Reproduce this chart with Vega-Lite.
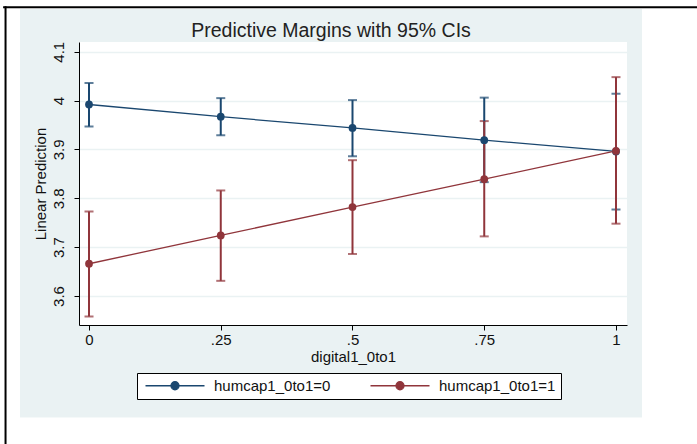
{
  "$schema": "https://vega.github.io/schema/vega-lite/v6.json",
  "width": 548,
  "height": 283,
  "autosize": {"type": "none"},
  "padding": {"left": 79, "top": 42, "right": 70, "bottom": 119},
  "background": "#EAF2F3",
  "config": {
    "view": {"fill": "white", "stroke": null},
    "font": "Liberation Sans"
  },
  "title": {
    "text": "Predictive Margins with 95% CIs",
    "fontSize": 19.5,
    "fontWeight": "normal",
    "color": "#222222",
    "anchor": "middle",
    "frame": "group",
    "dx": -22,
    "dy": 46,
    "offset": 4
  },
  "data": {
    "values": [
      {"digital": 0, "group": "humcap1_0to1=0", "margin": 3.992, "lo": 3.947, "hi": 4.036},
      {"digital": 0.25, "group": "humcap1_0to1=0", "margin": 3.967, "lo": 3.929, "hi": 4.005},
      {"digital": 0.5, "group": "humcap1_0to1=0", "margin": 3.944, "lo": 3.886, "hi": 4.001},
      {"digital": 0.75, "group": "humcap1_0to1=0", "margin": 3.919, "lo": 3.833, "hi": 4.006},
      {"digital": 1, "group": "humcap1_0to1=0", "margin": 3.896, "lo": 3.777, "hi": 4.014},
      {"digital": 0, "group": "humcap1_0to1=1", "margin": 3.666, "lo": 3.558, "hi": 3.773},
      {"digital": 0.25, "group": "humcap1_0to1=1", "margin": 3.724, "lo": 3.631, "hi": 3.816},
      {"digital": 0.5, "group": "humcap1_0to1=1", "margin": 3.782, "lo": 3.686, "hi": 3.878},
      {"digital": 0.75, "group": "humcap1_0to1=1", "margin": 3.839, "lo": 3.722, "hi": 3.958},
      {"digital": 1, "group": "humcap1_0to1=1", "margin": 3.897, "lo": 3.748, "hi": 4.048}
    ]
  },
  "layer": [
    {
      "data": {"values": [{}]},
      "mark": {"type": "rect", "color": "white"},
      "encoding": {
        "x": {"datum": -0.3, "type": "quantitative", "scale": {"domain": [-0.019, 1.0209], "nice": false, "zero": false}},
        "x2": {"datum": 1.3},
        "y": {"datum": 4.2059, "type": "quantitative", "scale": {"domain": [3.5406, 4.1199], "nice": false, "zero": false}},
        "y2": {"datum": 4.1875}
      }
    },
    {
      "data": {"values": [{}]},
      "mark": {"type": "rect", "color": "white"},
      "encoding": {
        "x": {"datum": -0.3, "type": "quantitative", "scale": {"domain": [-0.019, 1.0209], "nice": false, "zero": false}},
        "x2": {"datum": 1.3},
        "y": {"datum": 3.351, "type": "quantitative", "scale": {"domain": [3.5406, 4.1199], "nice": false, "zero": false}},
        "y2": {"datum": 3.2}
      }
    },
    {
      "data": {"values": [{}]},
      "mark": {"type": "rect", "color": "white"},
      "encoding": {
        "x": {"datum": -0.3, "type": "quantitative", "scale": {"domain": [-0.019, 1.0209], "nice": false, "zero": false}},
        "x2": {"datum": -0.1309},
        "y": {"datum": 4.2059, "type": "quantitative", "scale": {"domain": [3.5406, 4.1199], "nice": false, "zero": false}},
        "y2": {"datum": 3.2}
      }
    },
    {
      "data": {"values": [{}]},
      "mark": {"type": "rect", "color": "white"},
      "encoding": {
        "x": {"datum": 1.0493, "type": "quantitative", "scale": {"domain": [-0.019, 1.0209], "nice": false, "zero": false}},
        "x2": {"datum": 1.3},
        "y": {"datum": 4.2059, "type": "quantitative", "scale": {"domain": [3.5406, 4.1199], "nice": false, "zero": false}},
        "y2": {"datum": 3.2}
      }
    },
    {
      "data": {"values": [{}]},
      "mark": {"type": "rule", "color": "black", "strokeWidth": 2.2},
      "encoding": {
        "x": {"datum": -0.163, "type": "quantitative", "scale": {"domain": [-0.019, 1.0209], "nice": false, "zero": false}},
        "x2": {"datum": 1.3},
        "y": {"datum": 4.191, "type": "quantitative", "scale": {"domain": [3.5406, 4.1199], "nice": false, "zero": false}}
      }
    },
    {
      "data": {"values": [{}]},
      "mark": {"type": "rule", "color": "black", "strokeWidth": 2},
      "encoding": {
        "x": {"datum": -0.1584, "type": "quantitative", "scale": {"domain": [-0.019, 1.0209], "nice": false, "zero": false}},
        "y": {"datum": 4.193, "type": "quantitative", "scale": {"domain": [3.5406, 4.1199], "nice": false, "zero": false}},
        "y2": {"datum": 3.2}
      }
    },
    {
      "mark": {"type": "errorbar", "ticks": {"size": 9, "thickness": 2}, "thickness": 2},
      "encoding": {
        "x": {"field": "digital", "type": "quantitative", "scale": {"domain": [-0.019, 1.0209], "nice": false, "zero": false}, "title": "digital1_0to1"},
        "y": {"field": "lo", "type": "quantitative", "scale": {"domain": [3.5406, 4.1199], "nice": false, "zero": false}, "title": "Linear Prediction"},
        "y2": {"field": "hi"},
        "color": {"field": "group", "type": "nominal", "scale": {"domain": ["humcap1_0to1=0", "humcap1_0to1=1"], "range": ["#1A476F", "#90353B"]}}
      }
    },
    {
      "mark": {"type": "line", "strokeWidth": 1.3},
      "encoding": {
        "x": {"field": "digital", "type": "quantitative", "scale": {"domain": [-0.019, 1.0209], "nice": false, "zero": false}, "title": "digital1_0to1"},
        "y": {"field": "margin", "type": "quantitative", "scale": {"domain": [3.5406, 4.1199], "nice": false, "zero": false}, "title": "Linear Prediction"},
        "color": {"field": "group", "type": "nominal", "scale": {"domain": ["humcap1_0to1=0", "humcap1_0to1=1"], "range": ["#1A476F", "#90353B"]}}
      }
    },
    {
      "mark": {"type": "point", "filled": true, "size": 60, "opacity": 1},
      "encoding": {
        "x": {
          "field": "digital", "type": "quantitative",
          "scale": {"domain": [-0.019, 1.0209], "nice": false, "zero": false},
          "title": "digital1_0to1",
          "axis": {
            "values": [0, 0.25, 0.5, 0.75, 1],
            "labelExpr": "replace(format(datum.value, '~g'), '0.', '.')",
            "grid": false,
            "domainColor": "black", "domainWidth": 1,
            "tickColor": "black", "tickSize": 5, "tickWidth": 1,
            "labelFontSize": 15, "labelColor": "#111111", "labelPadding": 2, "labelFlush": false,
            "titleFontSize": 15, "titleFontWeight": "normal", "titleColor": "#111111", "titlePadding": 2
          }
        },
        "y": {
          "field": "margin", "type": "quantitative",
          "scale": {"domain": [3.5406, 4.1199], "nice": false, "zero": false},
          "title": "Linear Prediction",
          "axis": {
            "values": [3.6, 3.7, 3.8, 3.9, 4, 4.1],
            "labelExpr": "format(datum.value, '~g')",
            "grid": true, "gridColor": "#EAF2F3", "gridWidth": 1.6,
            "domainColor": "black", "domainWidth": 1,
            "tickColor": "black", "tickSize": 5, "tickWidth": 1,
            "labelAngle": -90, "labelAlign": "center", "labelBaseline": "bottom",
            "labelFontSize": 15, "labelColor": "#111111", "labelPadding": 8, "labelFlush": false,
            "titleFontSize": 15, "titleFontWeight": "normal", "titleColor": "#111111", "titlePadding": 3
          }
        },
        "color": {
          "field": "group", "type": "nominal",
          "scale": {"domain": ["humcap1_0to1=0", "humcap1_0to1=1"], "range": ["#1A476F", "#90353B"]},
          "legend": {
            "title": null,
            "orient": "none",
            "legendX": 58,
            "legendY": 331,
            "direction": "horizontal",
            "symbolType": "M-1,0H13.75M5.375,0A1,1,0,1,0,7.375,0A1,1,0,1,0,5.375,0Z",
            "symbolSize": 64,
            "symbolStrokeWidth": 1.3,
            "symbolOpacity": 1,
            "labelFontSize": 15,
            "labelColor": "#111111",
            "labelOffset": 57,
            "columnPadding": 36,
            "padding": 5,
            "fillColor": "white",
            "strokeColor": "black",
            "encode": {
              "symbols": {
                "update": {
                  "opacity": {"value": 1},
                  "fillOpacity": {"value": 1},
                  "strokeOpacity": {"value": 1}
                }
              }
            }
          }
        }
      }
    }
  ]
}
